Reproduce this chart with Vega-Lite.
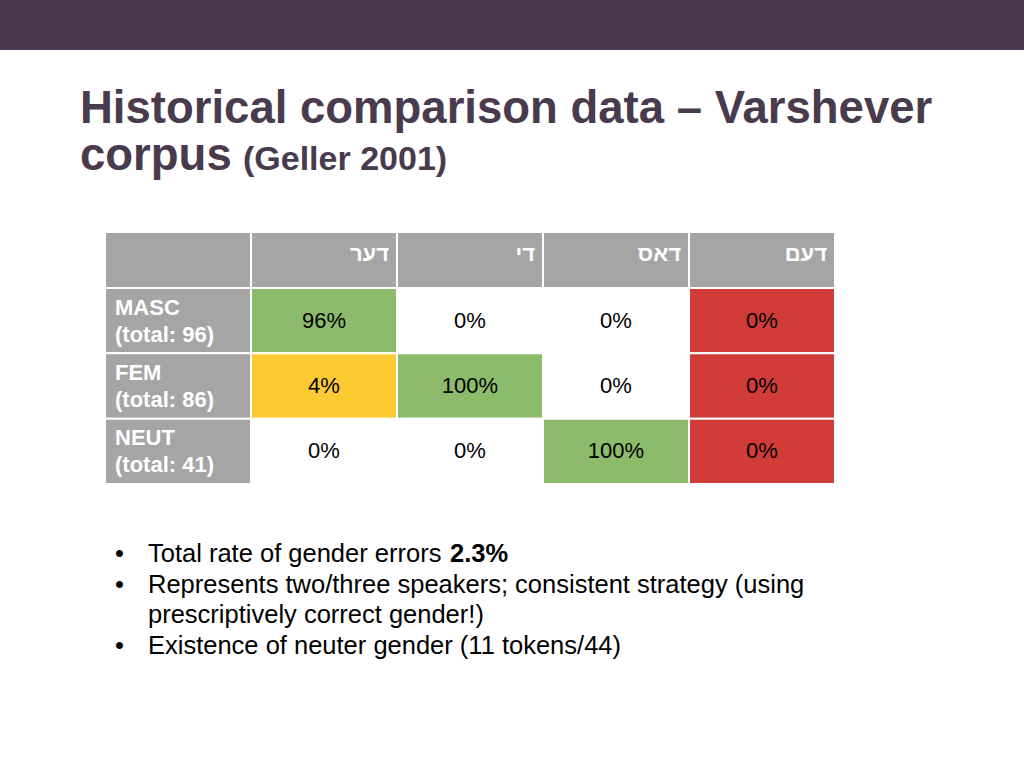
{
  "$schema": "https://vega.github.io/schema/vega-lite/v6.json",
  "padding": 0,
  "spacing": 0,
  "bounds": "flush",
  "background": "#ffffff",
  "config": {
    "view": {"stroke": null},
    "font": "Liberation Sans, Arial, sans-serif"
  },
  "datasets": {
    "title": [
      {"line": "1", "part": "main", "text": "Historical comparison data – Varshever"},
      {"line": "2", "part": "main", "text": "corpus"},
      {"line": "2", "part": "paren", "text": "(Geller 2001)"}
    ],
    "header": [
      {"row": "hdr", "col": "label", "text": ""},
      {"row": "hdr", "col": "der", "text": "דער"},
      {"row": "hdr", "col": "di", "text": "די"},
      {"row": "hdr", "col": "dos", "text": "דאס"},
      {"row": "hdr", "col": "dem", "text": "דעם"}
    ],
    "cells": [
      {"row": "MASC", "col": "label", "status": "label", "text": "MASC\n(total: 96)"},
      {"row": "MASC", "col": "der", "status": "correct", "text": "96%"},
      {"row": "MASC", "col": "di", "status": "none", "text": "0%"},
      {"row": "MASC", "col": "dos", "status": "none", "text": "0%"},
      {"row": "MASC", "col": "dem", "status": "error", "text": "0%"},
      {"row": "FEM", "col": "label", "status": "label", "text": "FEM\n(total: 86)"},
      {"row": "FEM", "col": "der", "status": "minor", "text": "4%"},
      {"row": "FEM", "col": "di", "status": "correct", "text": "100%"},
      {"row": "FEM", "col": "dos", "status": "none", "text": "0%"},
      {"row": "FEM", "col": "dem", "status": "error", "text": "0%"},
      {"row": "NEUT", "col": "label", "status": "label", "text": "NEUT\n(total: 41)"},
      {"row": "NEUT", "col": "der", "status": "none", "text": "0%"},
      {"row": "NEUT", "col": "di", "status": "none", "text": "0%"},
      {"row": "NEUT", "col": "dos", "status": "correct", "text": "100%"},
      {"row": "NEUT", "col": "dem", "status": "error", "text": "0%"}
    ],
    "bullets": [
      {"line": "1", "pos": "bullet", "weight": "normal", "text": "•"},
      {"line": "1", "pos": "text", "weight": "normal", "text": "Total rate of gender errors"},
      {"line": "1", "pos": "text", "weight": "bold", "text": "2.3%"},
      {"line": "2", "pos": "bullet", "weight": "normal", "text": "•"},
      {"line": "2", "pos": "text", "weight": "normal", "text": "Represents two/three speakers; consistent strategy (using"},
      {"line": "3", "pos": "text", "weight": "normal", "text": "prescriptively correct gender!)"},
      {"line": "4", "pos": "bullet", "weight": "normal", "text": "•"},
      {"line": "4", "pos": "text", "weight": "normal", "text": "Existence of neuter gender (11 tokens/44)"}
    ]
  },
  "vconcat": [
    {
      "width": 1024,
      "height": 50,
      "view": {"fill": "#4b3a4f", "stroke": null},
      "data": {"values": [{"t": ""}]},
      "mark": {"type": "text"},
      "encoding": {"text": {"field": "t", "type": "nominal"}}
    },
    {
      "width": 1024,
      "height": 182,
      "data": {"name": "title"},
      "mark": {"type": "text", "align": "left", "baseline": "alphabetic", "fontWeight": "bold", "color": "#4a3a4e"},
      "encoding": {
        "x": {"field": "part", "type": "nominal", "scale": {"type": "point", "domain": ["main", "paren"], "range": [80, 243], "padding": 0}, "axis": null},
        "y": {"field": "line", "type": "ordinal", "scale": {"type": "point", "domain": ["1", "2"], "range": [73, 120], "padding": 0}, "axis": null},
        "size": {"field": "part", "type": "ordinal", "scale": {"domain": ["main", "paren"], "range": [45.5, 34]}, "legend": null},
        "text": {"field": "text", "type": "nominal"}
      }
    },
    {
      "width": 1024,
      "height": 56,
      "data": {"name": "header"},
      "encoding": {
        "x": {"field": "col", "type": "nominal", "scale": {"type": "band", "domain": ["label", "der", "di", "dos", "dem"], "range": [105, 835], "paddingInner": 0, "paddingOuter": 0}, "axis": null},
        "y": {"field": "row", "type": "nominal", "scale": {"type": "band", "domain": ["hdr"], "paddingInner": 0, "paddingOuter": 0}, "axis": null}
      },
      "layer": [
        {"mark": {"type": "rect", "fill": "#a5a5a5", "stroke": "#ffffff", "strokeWidth": 2}},
        {
          "mark": {"type": "text", "align": "right", "baseline": "middle", "dx": -8, "dy": -6, "fontSize": 22, "fontWeight": "bold", "color": "#ffffff"},
          "encoding": {
            "x": {"field": "col", "type": "nominal", "bandPosition": 1},
            "text": {"field": "text", "type": "nominal"}
          }
        }
      ]
    },
    {
      "width": 1024,
      "height": 196,
      "data": {"name": "cells"},
      "encoding": {
        "x": {"field": "col", "type": "nominal", "scale": {"type": "band", "domain": ["label", "der", "di", "dos", "dem"], "range": [105, 835], "paddingInner": 0, "paddingOuter": 0}, "axis": null},
        "y": {"field": "row", "type": "nominal", "scale": {"type": "band", "domain": ["MASC", "FEM", "NEUT"], "paddingInner": 0, "paddingOuter": 0}, "axis": null}
      },
      "layer": [
        {
          "mark": {"type": "rect", "stroke": "#ffffff", "strokeWidth": 2},
          "encoding": {
            "fill": {"field": "status", "type": "nominal", "scale": {"domain": ["label", "correct", "minor", "error", "none"], "range": ["#a5a5a5", "#8cbb6b", "#fdca34", "#d13b38", "#ffffff"]}, "legend": null}
          }
        },
        {
          "transform": [{"filter": "datum.status === 'label'"}],
          "mark": {"type": "text", "align": "left", "baseline": "middle", "dx": 10, "dy": -13, "fontSize": 22, "fontWeight": "bold", "color": "#ffffff", "lineBreak": "\n", "lineHeight": 27},
          "encoding": {
            "x": {"field": "col", "type": "nominal", "bandPosition": 0},
            "text": {"field": "text", "type": "nominal"}
          }
        },
        {
          "transform": [{"filter": "datum.status !== 'label'"}],
          "mark": {"type": "text", "align": "center", "baseline": "middle", "fontSize": 22, "color": "#000000"},
          "encoding": {
            "text": {"field": "text", "type": "nominal"}
          }
        }
      ]
    },
    {
      "width": 1024,
      "height": 284,
      "data": {"name": "bullets"},
      "encoding": {
        "x": {"field": "pos", "type": "nominal", "scale": {"type": "point", "domain": ["bullet", "text"], "range": [115, 148], "padding": 0}, "axis": null},
        "y": {"field": "line", "type": "ordinal", "scale": {"type": "point", "domain": ["1", "2", "3", "4"], "range": [78, 170], "padding": 0}, "axis": null},
        "text": {"field": "text", "type": "nominal"}
      },
      "layer": [
        {
          "transform": [{"filter": "datum.weight === 'normal'"}],
          "mark": {"type": "text", "align": "left", "baseline": "alphabetic", "fontSize": 25.5, "color": "#000000"}
        },
        {
          "transform": [{"filter": "datum.weight === 'bold'"}],
          "mark": {"type": "text", "align": "left", "baseline": "alphabetic", "fontSize": 25.5, "fontWeight": "bold", "dx": 302, "color": "#000000"}
        }
      ]
    }
  ]
}
